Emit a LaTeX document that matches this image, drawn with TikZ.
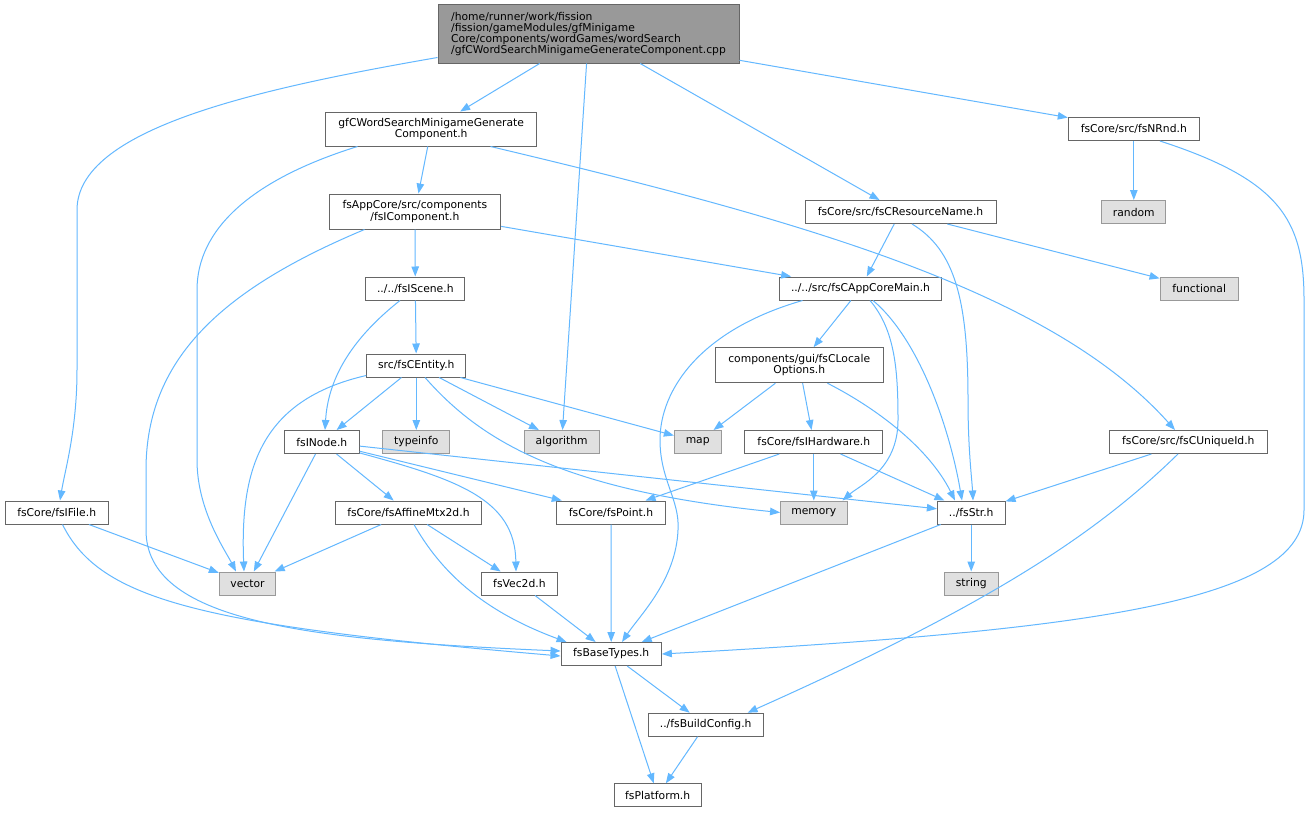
\documentclass[tikz,border=0pt]{standalone}
\usepackage{fontspec}
\setmainfont{DejaVu Sans}
\usetikzlibrary{arrows.meta}
\definecolor{edgec}{HTML}{63B8FF}
\definecolor{nodeb}{HTML}{666666}
\definecolor{extb}{HTML}{999999}
\definecolor{extf}{HTML}{E0E0E0}
\definecolor{mainf}{HTML}{999999}
\begin{document}
\begin{tikzpicture}[x=1bp,y=-1bp,
  font=\fontsize{10.8}{11.3}\selectfont,
  file/.style={draw=nodeb, fill=white, line width=1bp, inner sep=0pt, minimum height=23bp, align=center},
  ext/.style={file, draw=extb, fill=extf},
  mainnode/.style={file, fill=mainf, align=left},
  dep/.style={draw=edgec, line width=1bp, -{Triangle[length=10bp,width=7.5bp]}}]
\fill[white] (0,0) rectangle (1310,812);
\useasboundingbox (0,0) rectangle (1310,812);

% nodes
\node[mainnode, minimum width=301bp, minimum height=58bp] (main) at (588.5,34) {/home/runner/work/fission\\/fission/gameModules/gfMinigame\\Core/components/wordGames/wordSearch\\/gfCWordSearchMinigameGenerateComponent.cpp};
\node[file, minimum width=211bp, minimum height=34bp] (gfc) at (431.2,129) {gfCWordSearchMinigameGenerate\\Component.h};
\node[file, minimum width=131bp] (nrnd) at (1133.8,129) {fsCore/src/fsNRnd.h};
\node[file, minimum width=171.7bp, minimum height=35bp] (icomp) at (414.9,211.5) {fsAppCore/src/components\\/fsIComponent.h};
\node[file, minimum width=191bp] (resname) at (900.5,212) {fsCore/src/fsCResourceName.h};
\node[ext, minimum width=64.3bp] (random) at (1133.8,212) {random};
\node[file, minimum width=99.3bp] (iscene) at (415.3,288.5) {../../fsIScene.h};
\node[file, minimum width=162.4bp] (appmain) at (860.5,288.5) {../../src/fsCAppCoreMain.h};
\node[ext, minimum width=78.3bp] (functional) at (1199.2,288.5) {functional};
\node[file, minimum width=99.3bp] (centity) at (416.3,365.5) {src/fsCEntity.h};
\node[file, minimum width=168.3bp, minimum height=35bp] (locale) at (799.2,365.2) {components/gui/fsCLocale\\Options.h};
\node[file, minimum width=75bp] (inode) at (321.8,442) {fsINode.h};
\node[ext, minimum width=67.3bp] (typeinfo) at (416.3,442) {typeinfo};
\node[ext, minimum width=75.3bp] (algorithm) at (561.7,442) {algorithm};
\node[ext, minimum width=46.7bp] (map) at (697.7,442) {map};
\node[file, minimum width=137.7bp] (ihw) at (813.8,442) {fsCore/fsIHardware.h};
\node[file, minimum width=158bp] (uid) at (1188.3,442) {fsCore/src/fsCUniqueId.h};
\node[file, minimum width=103.3bp] (ifile) at (56.7,512.5) {fsCore/fsIFile.h};
\node[file, minimum width=146bp] (affine) at (408.4,512.5) {fsCore/fsAffineMtx2d.h};
\node[file, minimum width=108.6bp] (point) at (611,512.5) {fsCore/fsPoint.h};
\node[ext, minimum width=66.5bp] (memory) at (813.8,512.5) {memory};
\node[file, minimum width=67.7bp] (str) at (971.2,512.5) {../fsStr.h};
\node[ext, minimum width=56.4bp] (vector) at (247.5,583.5) {vector};
\node[file, minimum width=75.2bp] (vec2d) at (519.4,583.5) {fsVec2d.h};
\node[ext, minimum width=54bp] (string) at (971.2,583.5) {string};
\node[file, minimum width=100.3bp] (base) at (611.2,654) {fsBaseTypes.h};
\node[file, minimum width=114.7bp] (buildcfg) at (705.7,724.7) {../fsBuildConfig.h};
\node[file, minimum width=87.3bp] (platform) at (657.7,795.3) {fsPlatform.h};

% edges from main
\draw[dep] (main) -- (gfc);
\draw[dep] (main) -- (algorithm);
\draw[dep] (main) -- (resname);
\draw[dep] (main) -- (nrnd);
\draw[dep] ([yshift=6bp]main.south west) .. controls (250,90) and (77,130) .. (77,210) -- (77,370) .. controls (77,430) and (65,470) .. ([xshift=3.3bp]ifile.north);

% gfc
\draw[dep] (gfc) -- (icomp);
\draw[dep] ([xshift=32.3bp]gfc.south west) .. controls (250,180) and (197,230) .. (197,290) -- (197,460) .. controls (197,510) and (225,550) .. ([xshift=-11.5bp]vector.north);
\draw[dep] ([xshift=-46.7bp]gfc.south east) .. controls (800,220) and (1050,290) .. ([xshift=-13.3bp]uid.north);

% icomp
\draw[dep] (icomp) -- (iscene);
\draw[dep] (icomp) -- (appmain);
\draw[dep] ([xshift=36bp]icomp.south west) .. controls (220,290) and (146,360) .. (146,470) -- (146,530) .. controls (146,620) and (300,640) .. ([yshift=3bp]base.west);

% resname
\draw[dep] (resname) -- (appmain);
\draw[dep] (resname) -- (functional);
\draw[dep] ([xshift=11.5bp]resname.south) .. controls (955,250) and (968,300) .. (968,400) .. controls (968,450) and (972,480) .. ([xshift=1.8bp]str.north);

% nrnd
\draw[dep] (nrnd) -- (random);
\draw[dep] ([xshift=26.2bp]nrnd.south) .. controls (1280,180) and (1304,220) .. (1304,300) -- (1304,510) .. controls (1304,600) and (1100,630) .. (base.east);

% iscene
\draw[dep] (iscene) -- (centity);
\draw[dep] ([xshift=-15.3bp]iscene.south) .. controls (350,340) and (328,380) .. ([xshift=3.2bp]inode.north);

% appmain
\draw[dep] (appmain) -- (locale);
\draw[dep] ([xshift=23.7bp]appmain.south west) .. controls (700,330) and (660,390) .. (660,440) .. controls (660,480) and (680,500) .. (678,530) .. controls (676,580) and (640,615) .. ([xshift=10.8bp]base.north);
\draw[dep] ([xshift=9.5bp]appmain.south) .. controls (895,330) and (898,370) .. (898,420) .. controls (898,470) and (860,485) .. ([xshift=-5bp]memory.north east);
\draw[dep] ([xshift=12.5bp]appmain.south) .. controls (920,340) and (950,430) .. ([xshift=-9.2bp]str.north);

% locale
\draw[dep] (locale) -- (map);
\draw[dep] (locale) -- (ihw);
\draw[dep] ([xshift=28.2bp]locale.south) .. controls (880,410) and (930,450) .. ([xshift=-16.2bp]str.north);

% ihw
\draw[dep] (ihw) -- (point);
\draw[dep] (ihw) -- (memory);
\draw[dep] (ihw) -- (str);

% uid
\draw[dep] (uid) -- (str);
\draw[dep] ([xshift=-10.3bp]uid.south) .. controls (1100,530) and (1000,600) .. ([xshift=-16bp]buildcfg.north east);

% centity
\draw[dep] (centity) -- (inode);
\draw[dep] (centity) -- (typeinfo);
\draw[dep] (centity) -- (algorithm);
\draw[dep] (centity) -- (map);
\draw[dep] ([yshift=2bp]centity.south west) .. controls (260,400) and (240,470) .. ([xshift=-3.5bp]vector.north);
\draw[dep] ([xshift=8.7bp]centity.south) .. controls (480,440) and (560,490) .. (memory.west);

% inode
\draw[dep] (inode) -- (vector);
\draw[dep] (inode) -- (affine);
\draw[dep] (inode) -- (point);
\draw[dep] (inode) -- (str);
\draw[dep] ([yshift=1bp]inode.south east) .. controls (460,480) and (515,500) .. ([xshift=-3.4bp]vec2d.north);

% ifile
\draw[dep] (ifile) -- (vector);
\draw[dep] ([xshift=5.8bp]ifile.south) .. controls (100,600) and (200,625) .. ([yshift=-2bp]base.west);

% affine
\draw[dep] (affine) -- (vector);
\draw[dep] (affine) -- (vec2d);
\draw[dep] ([xshift=5.6bp]affine.south) .. controls (440,570) and (480,610) .. ([xshift=6bp]base.north west);

% lower
\draw[dep] (point) -- (base);
\draw[dep] (vec2d) -- (base);
\draw[dep] (str) -- (string);
\draw[dep] (str) -- (base);
\draw[dep] (base) -- (buildcfg);
\draw[dep] (base) -- (platform);
\draw[dep] (buildcfg) -- (platform);
\end{tikzpicture}
\end{document}
